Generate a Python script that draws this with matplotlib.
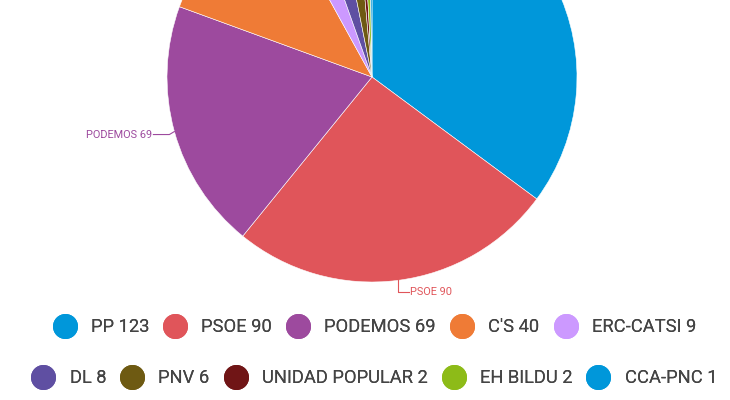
import numpy as np
import matplotlib
matplotlib.use("Agg")
from matplotlib import pyplot as plt
from matplotlib.lines import Line2D

plt.rcParams["font.family"] = ["Roboto", "DejaVu Sans"]

parties = ["PP", "PSOE", "PODEMOS", "C'S", "ERC-CATSI", "DL", "PNV",
           "UNIDAD POPULAR", "EH BILDU", "CCA-PNC"]
seats = [123, 90, 69, 40, 9, 8, 6, 2, 2, 1]
colors = ["#0097da", "#e0555a", "#9d4a9e", "#ef7b36", "#cc99ff",
          "#5f4fa2", "#6e5a12", "#701516", "#8dbb18", "#0097da"]
labelled = ["PSOE", "PODEMOS"]

fig = plt.figure(figsize=(7.3, 4), dpi=100)
ax = fig.add_axes([0, 0, 1, 1])

cx, cy, r = 372, 323, 205
wedges, _ = ax.pie(seats, colors=colors, startangle=90, counterclock=False,
                   center=(cx, cy), radius=r, frame=True,
                   wedgeprops=dict(linewidth=0.4, edgecolor="white"))
ax.set_xlim(0, 730)
ax.set_ylim(0, 400)
ax.axis("off")

# outside labels with leader lines
total = sum(seats)
cum = np.cumsum([0] + seats)
for i, name in enumerate(parties):
    if name not in labelled:
        continue
    mid = (cum[i] + seats[i] / 2) / total * 360
    ang = np.deg2rad(90 - mid)
    ex, ey = cx + r * np.cos(ang), cy + r * np.sin(ang)
    txt = f"{name} {seats[i]}"
    if np.cos(ang) < -0.5:
        pts_x = [ex, ex - 5, ex - 21]
        pts_y = [ey, ey - 3, ey - 3]
        ax.plot(pts_x, pts_y, color=colors[i], lw=0.8)
        ax.text(pts_x[-1] - 1, pts_y[-1], txt, color=colors[i], fontsize=7.9,
                ha="right", va="center")
    else:
        pts_x = [ex, ex, ex + 11]
        pts_y = [ey, ey - 12, ey - 12]
        ax.plot(pts_x, pts_y, color=colors[i], lw=0.8)
        ax.text(pts_x[-1] + 1, pts_y[-1], txt, color=colors[i], fontsize=7.9,
                ha="left", va="center")

# legend in two rows
def make_handles(idx):
    return [Line2D([], [], marker="o", linestyle="none", markersize=17,
                   markerfacecolor=colors[k], markeredgecolor=colors[k])
            for k in idx]

rows = [range(0, 5), range(5, 10)]
ys = [(400 - 327) / 400, (400 - 378) / 400]
for idx, y in zip(rows, ys):
    leg = fig.legend(make_handles(idx), [f"{parties[k]} {seats[k]}" for k in idx],
                     loc="center", bbox_to_anchor=(375 / 730, y), ncol=5,
                     frameon=False, fontsize=13.2, handletextpad=0.85,
                     columnspacing=0.85, handlelength=1.15,
                     labelcolor="#444444")
    fig.add_artist(leg)

fig.savefig("out.png", dpi=100)
